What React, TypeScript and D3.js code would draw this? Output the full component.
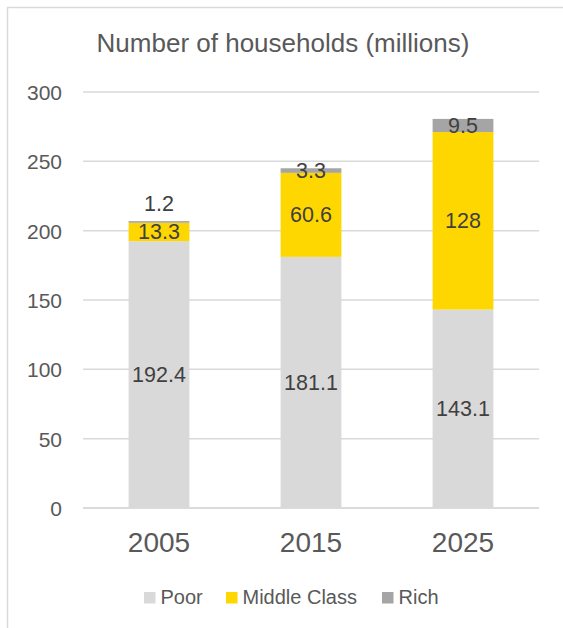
import React from "react";
import * as d3 from "d3";

const categories = ["2005", "2015", "2025"];
const poor = [192.4, 181.1, 143.1];
const middle = [13.3, 60.6, 128];
const rich = [1.2, 3.3, 9.5];
const seriesNames = ["Poor", "Middle Class", "Rich"];
const seriesColors = ["#D9D9D9", "#FFD700", "#A5A5A5"];
const yTicks = [0, 50, 100, 150, 200, 250, 300];
const title = "Number of households (millions)";

const W = 563;
const H = 628;
const FONT = "'Liberation Sans', Arial, sans-serif";

export default function App() {
  const x = d3.scaleBand<string>().domain(categories).range([83, 539]).paddingInner(0.6).paddingOuter(0.3);
  const y = d3.scaleLinear().domain([0, 300]).range([508, 92]);

  const rows = categories.map((c, i) => ({ cat: c, Poor: poor[i], "Middle Class": middle[i], Rich: rich[i] }));
  const stack = d3.stack<any>().keys(seriesNames)(rows);

  const legendX = [144, 226, 382];

  return (
    <svg width={W} height={H} style={{ position: "absolute", left: 0, top: 0, background: "#fff" }} fontFamily={FONT}>
      <rect x={7.5} y={7.5} width={W + 20} height={H + 20} fill="#fff" stroke="#D9D9D9" strokeWidth={1.5} />
      <text x={283} y={52} textAnchor="middle" fontSize={26} fill="#595959">{title}</text>
      {yTicks.map((t) => (
        <g key={t}>
          <line x1={83} x2={539} y1={y(t)} y2={y(t)} stroke="#D9D9D9" strokeWidth={1.5} />
          <text x={62} y={y(t) + 8} textAnchor="end" fontSize={21} fill="#595959">{t}</text>
        </g>
      ))}
      {stack.map((s, si) => (
        <g key={s.key}>
          {s.map((d, i) => (
            <rect key={i} x={x(categories[i])!} width={x.bandwidth()} y={y(d[1])} height={y(d[0]) - y(d[1])} fill={seriesColors[si]} />
          ))}
        </g>
      ))}
      <line x1={83} x2={539} y1={y(0)} y2={y(0)} stroke="#D9D9D9" strokeWidth={1.5} />
      {stack.map((s, si) => (
        <g key={"l" + s.key}>
          {s.map((d, i) => {
            const v = d[1] - d[0];
            const cy = v < 2 ? y(d[1]) - 18 : (y(d[0]) + y(d[1])) / 2;
            return (
              <text key={i} x={x(categories[i])! + x.bandwidth() / 2} y={cy + 7.5} textAnchor="middle" fontSize={21.5} fill="#404040">
                {String(v.toFixed(1)).replace(/\.0$/, "")}
              </text>
            );
          })}
        </g>
      ))}
      {categories.map((c) => (
        <text key={c} x={x(c)! + x.bandwidth() / 2} y={552} textAnchor="middle" fontSize={28} fill="#595959">{c}</text>
      ))}
      {seriesNames.map((n, i) => (
        <g key={n}>
          <rect x={legendX[i]} y={592} width={11.5} height={11.5} fill={seriesColors[i]} />
          <text x={legendX[i] + 16.5} y={604} fontSize={20} fill="#595959">{n}</text>
        </g>
      ))}
    </svg>
  );
}
